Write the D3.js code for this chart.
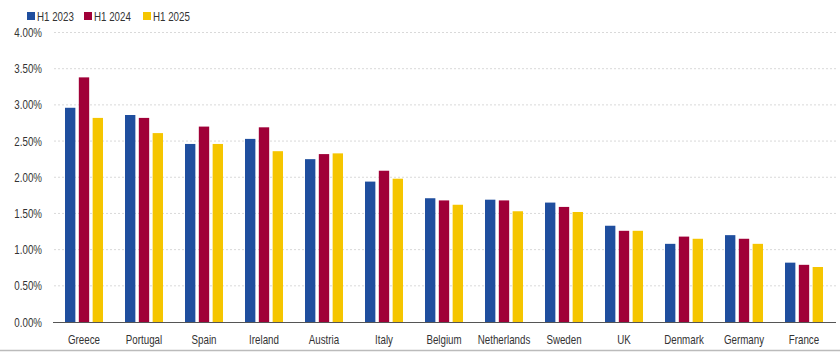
<!DOCTYPE html>
<html>
<head>
<meta charset="utf-8">
<script src="https://cdn.jsdelivr.net/npm/d3@7"></script>
<style>
  body { margin: 0; background: #fff; }
  text { font-family: "Liberation Sans", Arial, sans-serif; }
</style>
</head>
<body>
<div id="chart"></div>
<script>
const countries = ["Greece", "Portugal", "Spain", "Ireland", "Austria", "Italy", "Belgium", "Netherlands", "Sweden", "UK", "Denmark", "Germany", "France"];
const seriesNames = ["H1 2023", "H1 2024", "H1 2025"];
const h1_2023 = [2.96, 2.86, 2.46, 2.53, 2.25, 1.94, 1.71, 1.69, 1.65, 1.33, 1.08, 1.20, 0.82];
const h1_2024 = [3.38, 2.82, 2.70, 2.69, 2.32, 2.09, 1.68, 1.68, 1.59, 1.26, 1.18, 1.15, 0.79];
const h1_2025 = [2.82, 2.61, 2.46, 2.36, 2.33, 1.98, 1.62, 1.53, 1.52, 1.26, 1.15, 1.08, 0.76];
const yTicks = [0, 0.5, 1, 1.5, 2, 2.5, 3, 3.5, 4];
const colors = ["#1f4e9e", "#a00038", "#f5c500"];

const width = 840, height = 352;
const series = [h1_2023, h1_2024, h1_2025];
const narrow = 0.75; // squeeze text, the original uses a condensed face
const fontSize = 13;

const svg = d3.select("#chart").append("svg")
  .attr("width", width)
  .attr("height", height);

const x = d3.scaleBand()
  .domain(countries)
  .range([54, 834])
  .paddingInner(0)
  .paddingOuter(0);

const x1 = d3.scaleBand()
  .domain(seriesNames)
  .range([11, 49])
  .paddingInner(0.25);

const y = d3.scaleLinear()
  .domain([0, 4])
  .range([322, 32.5]);

// gridlines
svg.append("g")
  .selectAll("line")
  .data(yTicks.filter(d => d > 0))
  .enter()
  .append("line")
  .attr("x1", 54)
  .attr("x2", 836)
  .attr("y1", d => y(d))
  .attr("y2", d => y(d))
  .attr("stroke", "#d9d9d9")
  .attr("stroke-width", 1)
  .attr("stroke-dasharray", "2,2");

// y labels
svg.append("g")
  .selectAll("text")
  .data(yTicks)
  .enter()
  .append("text")
  .attr("transform", d => `translate(42,${y(d)}) scale(${narrow},1)`)
  .attr("dy", "0.35em")
  .attr("text-anchor", "end")
  .attr("font-size", fontSize)
  .attr("fill", "#333")
  .text(d => d.toFixed(2) + "%");

// bars
const groups = svg.append("g")
  .selectAll("g")
  .data(countries)
  .enter()
  .append("g")
  .attr("transform", d => `translate(${x(d)},0)`);

groups.selectAll("rect")
  .data((c, i) => series.map((s, k) => ({ key: seriesNames[k], value: s[i], k })))
  .enter()
  .append("rect")
  .attr("x", d => x1(d.key))
  .attr("width", x1.bandwidth())
  .attr("y", d => y(d.value))
  .attr("height", d => y(0) - y(d.value))
  .attr("fill", d => colors[d.k]);

// x axis line
svg.append("line")
  .attr("x1", 53)
  .attr("x2", 836)
  .attr("y1", y(0) + 0.5)
  .attr("y2", y(0) + 0.5)
  .attr("stroke", "#555")
  .attr("stroke-width", 1);

// x labels
svg.append("g")
  .selectAll("text")
  .data(countries)
  .enter()
  .append("text")
  .attr("transform", d => `translate(${x(d) + x.bandwidth() / 2},339) scale(${narrow},1)`)
  .attr("dy", "0.35em")
  .attr("text-anchor", "middle")
  .attr("font-size", fontSize)
  .attr("fill", "#333")
  .text(d => d);

// bottom rule
svg.append("line")
  .attr("x1", 0)
  .attr("x2", width)
  .attr("y1", 350.5)
  .attr("y2", 350.5)
  .attr("stroke", "#bbb")
  .attr("stroke-width", 1.5);

// legend
const legendX = [27, 84, 143];
const legend = svg.append("g")
  .selectAll("g")
  .data(seriesNames)
  .enter()
  .append("g")
  .attr("transform", (d, i) => `translate(${legendX[i]},12)`);

legend.append("rect")
  .attr("width", 8)
  .attr("height", 8)
  .attr("fill", (d, i) => colors[i]);

legend.append("text")
  .attr("transform", `translate(10,4) scale(${narrow},1)`)
  .attr("dy", "0.35em")
  .attr("font-size", fontSize)
  .attr("fill", "#333")
  .text(d => d);
</script>
</body>
</html>
